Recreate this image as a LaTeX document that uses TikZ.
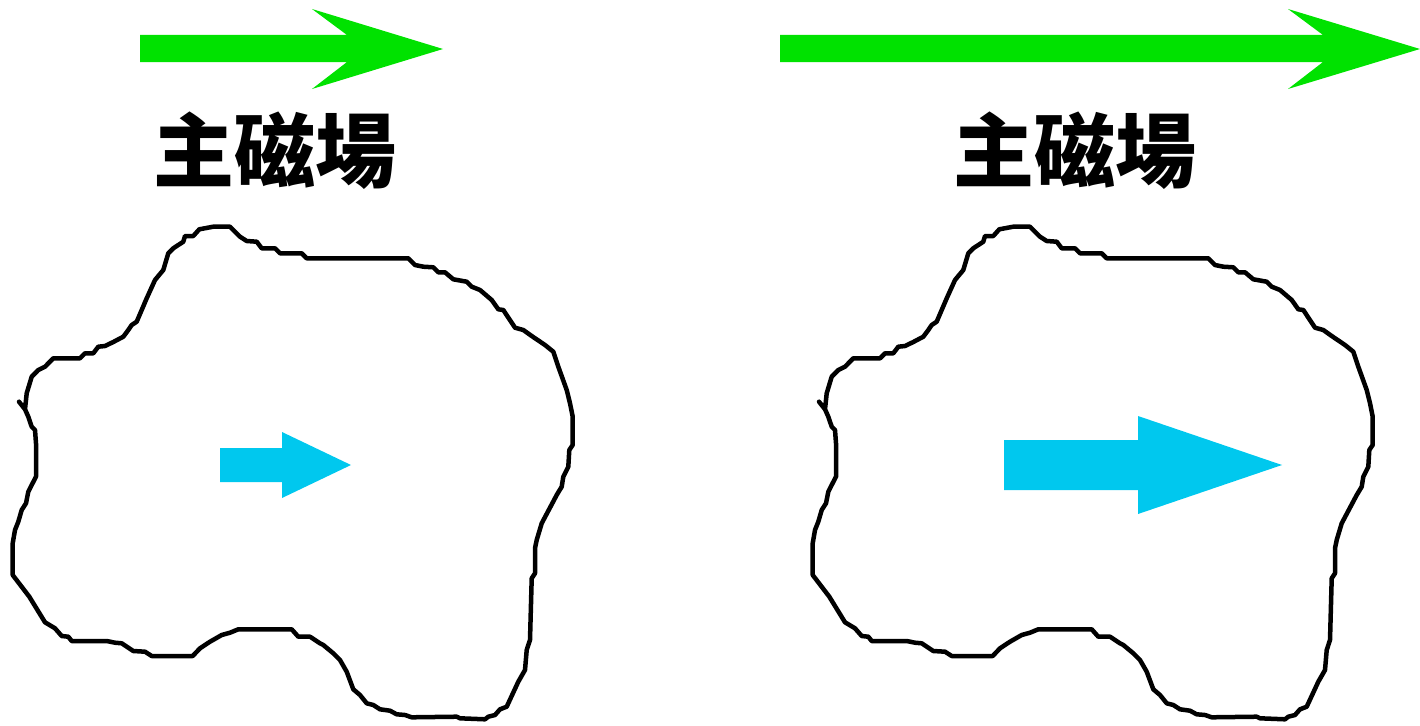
\documentclass[tikz,border=0pt]{standalone}
\usepackage{fontspec}
\newfontfamily\cjk{Noto Sans CJK TC}
\definecolor{fieldgreen}{RGB}{0,226,0}
\definecolor{spincyan}{RGB}{0,200,238}
\tikzset{
  blob/.style={draw=black,line width=4.5pt,line join=round,line cap=round},
  fieldarrow/.style={fill=fieldgreen,draw=none},
  spinarrow/.style={fill=spincyan,draw=none},
  label/.style={font=\cjk\bfseries\fontsize{81}{83}\selectfont,inner sep=0pt,text=black}
}
\def\blobpath{(25,409.3) -- (28.3,416.7) -- (31.7,426.7) -- (35,430) -- (36,443.3) -- (36,476.7) -- (31.7,485) -- (28.3,491.7) -- (26,503.3) -- (21.7,510) -- (18.3,521.7) -- (15,530) -- (12.7,543.3) -- (12.7,575) -- (29.3,596.7) -- (45,622.3) -- (55,628.3) -- (61.7,636) -- (68.3,636.7) -- (71.7,641) -- (106.7,641) -- (115,642.7) -- (121.7,643.3) -- (133.3,651) -- (145,651.7) -- (151.7,656) -- (192.7,656) -- (200,648.3) -- (210,641.7) -- (221.7,635) -- (230,632.7) -- (238.3,629.3) -- (291.7,629.3) -- (298.3,636.7) -- (310,636.7) -- (320,643.3) -- (323.3,645) -- (333.3,653.3) -- (340,660) -- (346.7,671.7) -- (353.3,689.3) -- (360,695) -- (366.7,703.3) -- (373.3,705) -- (380,709.3) -- (390,710.7) -- (396.7,714.3) -- (405,715) -- (411.7,717.3) -- (456.7,716.7) -- (460,718.3) -- (485,719.3) -- (488.3,716.7) -- (495,715) -- (500,709.3) -- (506.7,706.7) -- (518.3,681.7) -- (525,670) -- (526.7,650) -- (530,640) -- (531.7,578.3) -- (535,573.3) -- (535,548.3) -- (536.7,540) -- (541.7,523.3) -- (556.7,495) -- (561.7,486.7) -- (563.3,476.7) -- (568.3,466.7) -- (569.3,450) -- (572.7,445) -- (572.7,416.7) -- (570,403.3) -- (566.7,390) -- (558.3,366.7) -- (553.3,351.7) -- (545,345) -- (531.7,336) -- (523.3,330) -- (515,327.7) -- (503.3,310) -- (498.3,309.3) -- (491.7,300) -- (480,290) -- (471.7,286.7) -- (466.7,281.7) -- (453.3,279.3) -- (445,272.3) -- (438.3,272.3) -- (433.3,267.3) -- (423.3,266.7) -- (415,265) -- (408.3,258.3) -- (306.7,258.3) -- (301.7,253.3) -- (280,253.3) -- (275,248.3) -- (261.7,248.3) -- (256.7,241.7) -- (246.7,241) -- (240,236.7) -- (230,226.7) -- (213.3,226.7) -- (199.3,229.3) -- (193.3,236) -- (185,236) -- (183.3,241.7) -- (173.3,248.3) -- (168.3,253.3) -- (163.3,270) -- (155,280) -- (146.7,298.3) -- (136.7,321.7) -- (131.7,325) -- (128.3,330) -- (123.3,336.7) -- (113.3,342) -- (105,346) -- (98.3,346.7) -- (93.3,353.3) -- (85,353.3) -- (80,358.3) -- (53.3,358.3) -- (45,366.7) -- (38.3,370) -- (31.7,376.7) -- (26.7,393.3) -- (25,409.3) -- (19,401.7)}
\begin{document}
\begin{tikzpicture}[x=1pt,y=-1pt]
\useasboundingbox (0,0) rectangle (1420,725);
% left panel
\fill[fieldarrow] (140,35) -- (347,35) -- (312,9) -- (443,49) -- (312,89) -- (347,62) -- (140,62) -- cycle;
\node[label] (labelL) at (275,151) {主磁場};
\draw[blob] \blobpath;
\fill[spinarrow] (220,448) -- (282,448) -- (282,432) -- (351,465) -- (282,498) -- (282,482) -- (220,482) -- cycle;
% right panel
\fill[fieldarrow] (780,35) -- (1323,35) -- (1288,9) -- (1420,49) -- (1288,89) -- (1323,62) -- (780,62) -- cycle;
\node[label] (labelR) at (1075,151) {主磁場};
\begin{scope}[shift={(800,0)}]
\draw[blob] \blobpath;
\end{scope}
\fill[spinarrow] (1004,440) -- (1138,440) -- (1138,416) -- (1282,465) -- (1138,514) -- (1138,490) -- (1004,490) -- cycle;
\end{tikzpicture}
\end{document}
